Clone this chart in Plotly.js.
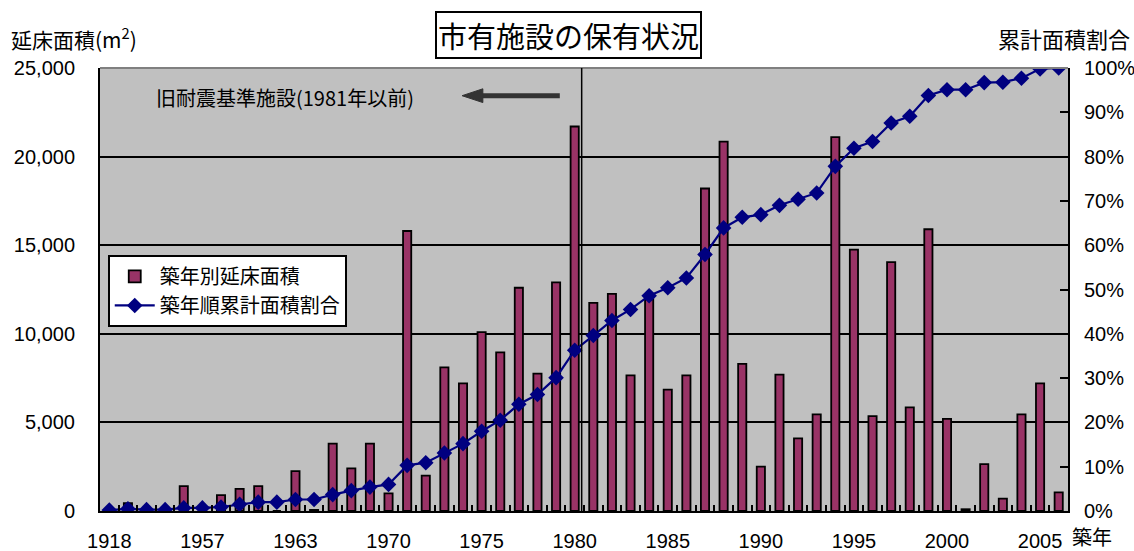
<!DOCTYPE html>
<html>
<head>
<meta charset="utf-8">
<script src="https://cdn.plot.ly/plotly-3.0.1.min.js"></script>
<style>html,body{margin:0;padding:0;background:#fff;}#chart{width:1134px;height:551px;}</style>
</head>
<body>
<div id="chart"></div>
<script>
// Build-year categories (only every 5th is labelled on the axis)
const years = ["1918","1926","1937","1950","1956","1957","1958","1959","1960","1962",
  "1963","1964","1965","1966","1968","1970","1971","1972","1973","1974",
  "1975","1976","1977","1978","1979","1980","1981","1982","1983","1984",
  "1985","1986","1987","1988","1989","1990","1991","1992","1993","1994",
  "1995","1996","1997","1998","1999","2000","2001","2002","2003","2004",
  "2005","2006"];
// 築年別延床面積 (m2)
const floorArea = [0,450,0,0,1400,0,900,1250,1400,0,
  2250,60,3800,2400,3800,1000,15800,2000,8100,7200,
  10100,8950,12600,7750,12900,21700,11750,12250,7650,11950,
  6850,7650,18200,20850,8300,2500,7700,4100,5450,21100,
  14750,5350,14050,5850,15900,5200,100,2650,700,5450,
  7200,1050];
// 築年順累計面積割合 (%)
const cumShare = [0.2,0.5,0.3,0.3,0.7,0.7,0.9,1.5,2.0,2.0,
  2.6,2.6,3.7,4.6,5.4,6.0,10.3,10.9,13.1,15.2,
  18.0,20.5,24.1,26.3,30.1,36.3,39.6,43.0,45.5,48.6,
  50.4,52.6,57.9,63.9,66.3,66.9,69.0,70.4,71.8,77.8,
  81.9,83.4,87.6,89.1,93.8,95.1,95.1,96.7,96.8,97.7,
  99.8,100];
const tickLabels = years.map((y, i) => (i % 5 === 0 ? y : " "));

const FONT = "Liberation Sans, Arial, Noto Sans CJK JP, sans-serif";
const JFONT = "Noto Sans CJK JP, Liberation Sans, sans-serif";

const traces = [
  {
    type: "bar", name: "築年別延床面積", x: years, y: floorArea,
    marker: {color: "#993366", line: {color: "#000000", width: 1.8}},
    yaxis: "y"
  },
  {
    type: "scatter", mode: "lines+markers", name: "築年順累計面積割合",
    x: years, y: cumShare.map(v => v / 100), yaxis: "y2",
    line: {color: "#000080", width: 2.2},
    marker: {symbol: "diamond", size: 12, color: "#000080"}
  }
];

const layout = {
  width: 1134, height: 551,
  margin: {l: 100, r: 66, t: 68, b: 40},
  paper_bgcolor: "#ffffff", plot_bgcolor: "#c0c0c0",
  font: {family: FONT, size: 20, color: "#000"},
  bargap: 0.56,
  showlegend: true,
  legend: {
    x: 0.008, y: 0.578, xanchor: "left", yanchor: "top",
    bgcolor: "#ffffff", bordercolor: "#000000", borderwidth: 2,
    font: {family: JFONT, size: 20, color: "#000"},
    tracegroupgap: 0, itemwidth: 40
  },
  xaxis: {
    type: "category", range: [-0.5, years.length - 0.5],
    tickmode: "array", tickvals: years, ticktext: tickLabels,
    tickson: "boundaries", ticks: "inside", ticklen: 6, tickwidth: 2, tickcolor: "#000",
    showline: true, linecolor: "#000", linewidth: 2, showgrid: false,
    tickfont: {family: FONT, size: 20}, tickangle: 0, ticklabelstandoff: 11, automargin: false
  },
  yaxis: {
    range: [0, 25000], dtick: 5000, tickformat: ",d",
    showgrid: true, gridcolor: "#000", gridwidth: 2,
    ticks: "inside", ticklen: 8, tickwidth: 2, tickcolor: "#000",
    showline: true, linecolor: "#000", linewidth: 2, zeroline: false,
    tickfont: {family: FONT, size: 20}, ticklabelstandoff: 19, automargin: false
  },
  yaxis2: {
    overlaying: "y", side: "right", range: [0, 1], dtick: 0.1, tickformat: ".0%",
    showgrid: false, ticks: "inside", ticklen: 8, tickwidth: 2, tickcolor: "#000",
    showline: true, linecolor: "#000", linewidth: 2, zeroline: false,
    tickfont: {family: FONT, size: 20}, ticklabelstandoff: 10, automargin: false
  },
  shapes: [
    {type: "line", xref: "paper", yref: "paper", x0: 0, x1: 1, y0: 1, y1: 1,
     line: {color: "#808080", width: 2}},
    {type: "line", xref: "paper", yref: "paper", x0: 0.4976, x1: 0.4976, y0: 0, y1: 1,
     line: {color: "#000", width: 1.5}},
    {type: "line", xref: "paper", yref: "paper", x0: 0.392, x1: 0.475, y0: 0.9375, y1: 0.9375,
     line: {color: "#333333", width: 5}},
    {type: "path", xref: "paper", yref: "paper",
     path: "M 0.374 0.9375 L 0.3955 0.953 L 0.3955 0.922 Z",
     fillcolor: "#333333", line: {color: "#333333", width: 1}}
  ],
  annotations: [
    {text: "市有施設の保有状況", xref: "paper", yref: "paper", x: 0.4835, y: 1.0,
     yshift: 33, xanchor: "center", yanchor: "middle", showarrow: false,
     font: {family: JFONT, size: 29, color: "#000"},
     bgcolor: "#ffffff", bordercolor: "#000", borderwidth: 2, borderpad: 1},
    {text: "延床面積(m<sup>2</sup>)", xref: "paper", yref: "paper", x: -0.094, y: 1.0,
     yshift: 30, xanchor: "left", yanchor: "middle", showarrow: false,
     font: {family: JFONT, size: 21, color: "#000"}},
    {text: "累計面積割合", xref: "paper", yref: "paper", x: 1.066, y: 1.0,
     yshift: 30, xanchor: "right", yanchor: "middle", showarrow: false,
     font: {family: JFONT, size: 22, color: "#000"}},
    {text: "築年", xref: "paper", yref: "paper", x: 1.0, y: 0,
     xshift: 2, yshift: -25, xanchor: "left", yanchor: "middle", showarrow: false,
     font: {family: JFONT, size: 20, color: "#000"}},
    {text: "旧耐震基準施設(1981年以前)", xref: "paper", yref: "paper", x: 0.056, y: 1.0,
     yshift: -29, xanchor: "left", yanchor: "middle", showarrow: false,
     font: {family: JFONT, size: 20, color: "#000"}}
  ]
};

Plotly.newPlot("chart", traces, layout, {displayModeBar: false, staticPlot: true});
</script>
</body>
</html>
